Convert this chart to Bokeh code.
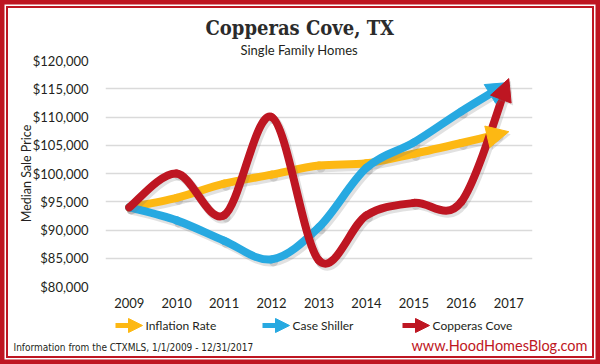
import numpy as np
from bokeh.plotting import figure
from bokeh.layouts import column
from bokeh.models import Range1d, FixedTicker, Arrow, NormalHead, Title
from bokeh.core.properties import value
from bokeh.embed import file_html
from bokeh.resources import INLINE

# ---------------- data ----------------
years = [2009, 2010, 2011, 2012, 2013, 2014, 2015, 2016, 2017]
year_labels = ["2009", "2010", "2011", "2012", "2013", "2014", "2015", "2016", "2017"]
inflation = [94000, 95700, 98200, 99800, 101400, 101800, 103500, 105400, 107400]
case_shiller = [94000, 91700, 88100, 84800, 90500, 101000, 105500, 111000, 116100]
copperas = [94000, 100000, 92600, 110000, 84600, 92600, 94800, 95000, 116800]
series_names = ["Inflation Rate", "Case Shiller", "Copperas Cove"]
y_ticks = [80000, 85000, 90000, 95000, 100000, 105000, 110000, 115000, 120000]
y_tick_labels = ["$80,000", "$85,000", "$90,000", "$95,000", "$100,000",
                 "$105,000", "$110,000", "$115,000", "$120,000"]

# ---------------- styles ----------------
RED = "#BE1622"
YELLOW = "#FDB813"
BLUE = "#27A9E1"
colors = [YELLOW, BLUE, RED]
FONT = "Lato"
TXT = "#231F20"

W, H = 600, 316
ML, MR, MT, MB = 105, 68, 60, 30
FW, FH = W - ML - MR, H - MT - MB
X0, X1 = 2008.5, 2017.5
Y0, Y1 = 80000, 120000
pxx = FW / (X1 - X0)
pxy = FH / (Y1 - Y0)

p = figure(width=W, height=H, output_backend="svg", toolbar_location=None,
           x_range=Range1d(X0, X1), y_range=Range1d(Y0, Y1),
           min_border_left=ML, min_border_right=MR,
           min_border_top=MT, min_border_bottom=MB)
p.outline_line_color = None
p.background_fill_color = None
p.border_fill_color = None

# titles (the added one sits nearest the frame)
p.title.text = "Copperas Cove, TX"
p.title.align = "left"
p.title.offset = 100
p.title.text_font = "DejaVu Serif Condensed"
p.title.text_font_size = "20px"
p.title.text_font_style = "bold"
p.title.text_color = "#2B2B2B"
try:
    p.title.standoff = -5
except ValueError:
    p.title.standoff = 0
p.add_layout(Title(text="Single Family Homes", align="left", offset=135,
                   text_font=FONT, text_font_size="13px", text_font_style="normal",
                   text_color=TXT, standoff=5), "above")

p.xgrid.grid_line_color = None
p.ygrid.ticker = FixedTicker(ticks=y_ticks)
p.ygrid.grid_line_color = "#DADADA"
p.ygrid.grid_line_width = 1.5

p.yaxis.ticker = FixedTicker(ticks=y_ticks)
p.yaxis.major_label_overrides = dict(zip(y_ticks, y_tick_labels))
p.xaxis.ticker = FixedTicker(ticks=years)
p.xaxis.major_label_overrides = dict(zip(years, year_labels))
for ax in (p.xaxis, p.yaxis):
    ax.axis_line_color = None
    ax.major_tick_line_color = None
    ax.minor_tick_line_color = None
    ax.major_label_text_font = FONT
    ax.major_label_text_font_size = "13px"
    ax.major_label_text_color = TXT
p.yaxis.major_label_standoff = 11
p.xaxis.major_label_standoff = 5
p.yaxis.axis_label = "Median Sale Price"
p.yaxis.axis_label_text_font = FONT
p.yaxis.axis_label_text_font_size = "12.5px"
p.yaxis.axis_label_text_font_style = "normal"
p.yaxis.axis_label_text_color = TXT
p.yaxis.axis_label_standoff = -4


def bezier_segments(xs, ys):
    n = len(xs)
    P = np.column_stack([xs, ys]).astype(float)
    segs = []
    for i in range(n - 1):
        prv = max(i - 1, 0)
        nxt = min(i + 2, n - 1)
        c1 = P[i] + (P[i + 1] - P[prv]) / 6.0
        c2 = P[i + 1] - (P[nxt] - P[i]) / 6.0
        segs.append([P[i], c1, c2, P[i + 1]])
    return segs


def split_bezier(seg, t):
    p0, p1, p2, p3 = seg
    a = p0 + (p1 - p0) * t
    b = p1 + (p2 - p1) * t
    c = p2 + (p3 - p2) * t
    d = a + (b - a) * t
    e = b + (c - b) * t
    f = d + (e - d) * t
    return [p0, a, d, f]


def trim_t(seg, cut_px):
    ts = np.linspace(0, 1, 400)
    p0, p1, p2, p3 = seg
    pts = (np.outer((1 - ts) ** 3, p0) + np.outer(3 * (1 - ts) ** 2 * ts, p1)
           + np.outer(3 * (1 - ts) * ts ** 2, p2) + np.outer(ts ** 3, p3))
    sx = pts[:, 0] * pxx
    sy = pts[:, 1] * pxy
    d = np.hypot(np.diff(sx), np.diff(sy))
    L = np.concatenate([[0], np.cumsum(d)])
    remain = L[-1] - L
    idx = np.argmax(remain <= cut_px)
    return ts[idx]


HEAD = 22
SH_DX = 2.0 / pxx
SH_DY = -2.5 / pxy

series = [inflation, case_shiller, copperas]
for name, vals, col in zip(series_names, series, colors):
    segs = bezier_segments(years, vals)
    last = segs[-1]
    t = trim_t(last, HEAD * 0.55)
    segs_draw = segs[:-1] + [split_bezier(last, t)]
    arr = np.array(segs_draw)
    data = dict(x0=arr[:, 0, 0], y0=arr[:, 0, 1], cx0=arr[:, 1, 0], cy0=arr[:, 1, 1],
                cx1=arr[:, 2, 0], cy1=arr[:, 2, 1], x1=arr[:, 3, 0], y1=arr[:, 3, 1])
    sdata = {k: (v + (SH_DX if k.startswith(("x", "cx")) else SH_DY)) for k, v in data.items()}
    p.bezier(x0="x0", y0="y0", x1="x1", y1="y1", cx0="cx0", cy0="cy0", cx1="cx1", cy1="cy1",
             source=sdata, line_color="#777777", line_alpha=0.22, line_width=9, line_cap="round")
    p.add_layout(Arrow(x_start=last[2][0] + SH_DX, y_start=last[2][1] + SH_DY,
                       x_end=last[3][0] + SH_DX, y_end=last[3][1] + SH_DY, line_alpha=0,
                       end=NormalHead(size=HEAD, fill_color="#777777", fill_alpha=0.22,
                                      line_color=None)))
    p.bezier(x0="x0", y0="y0", x1="x1", y1="y1", cx0="cx0", cy0="cy0", cx1="cx1", cy1="cy1",
             source=data, line_color=col, line_width=8, line_cap="round")
    p.add_layout(Arrow(x_start=last[2][0], y_start=last[2][1],
                       x_end=last[3][0], y_end=last[3][1], line_alpha=0,
                       end=NormalHead(size=HEAD, fill_color=col, line_color=col, line_width=1)))

# ---------------- bottom strip: legend + footer ----------------
SW, SH = 600, 48
s = figure(width=SW, height=SH, output_backend="svg", toolbar_location=None,
           x_range=Range1d(0, SW), y_range=Range1d(0, SH),
           x_axis_type=None, y_axis_type=None, min_border=0,
           min_border_left=0, min_border_right=0, min_border_top=0, min_border_bottom=0)
s.outline_line_color = None
s.grid.visible = False
s.background_fill_color = None
s.border_fill_color = None

leg_x = [115, 262, 402]
leg_y = SH - 9
for gx, col in zip(leg_x, colors):
    s.segment(x0=[gx], y0=[leg_y], x1=[gx + 15], y1=[leg_y], line_color=col, line_width=5)
    s.add_layout(Arrow(x_start=gx + 13, y_start=leg_y, x_end=gx + 27, y_end=leg_y,
                       line_alpha=0,
                       end=NormalHead(size=14, fill_color=col, line_color=col, line_width=1)))
s.text(x=[gx + 30 for gx in leg_x], y=[leg_y] * 3, text=series_names,
       text_font=value(FONT), text_font_size="12px", text_color=TXT,
       text_align="left", text_baseline="middle")
s.text(x=[13], y=[SH - 31], text=["Information from the CTXMLS, 1/1/2009 - 12/31/2017"],
       text_font=value("DejaVu Sans Condensed"), text_font_size="10px", text_color=TXT,
       text_align="left", text_baseline="middle")
s.text(x=[587], y=[SH - 29], text=["www.HoodHomesBlog.com"],
       text_font=value(FONT), text_font_size="14.5px", text_color=RED,
       text_align="right", text_baseline="middle")

layout = column(p, column(s), spacing=0,
                styles={"position": "absolute", "left": "0px", "top": "0px",
                        "background-color": "white",
                        "box-shadow": f"inset 0 0 0 4.5px {RED}, inset 0 0 0 6px white, "
                                      f"inset 0 0 0 8px {RED}"})

open("out.html", "w").write(file_html(layout, INLINE))
